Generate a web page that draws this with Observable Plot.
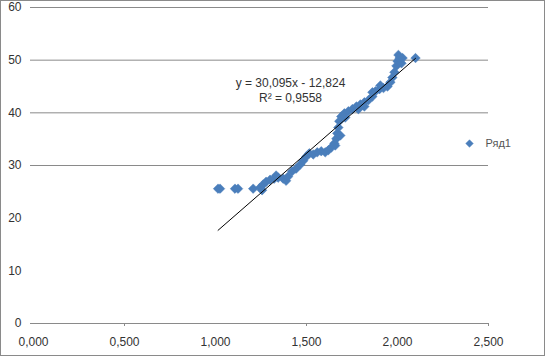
<!DOCTYPE html>
<html>
<head>
<meta charset="utf-8">
<script src="https://cdn.jsdelivr.net/npm/d3@7"></script>
<script src="https://cdn.jsdelivr.net/npm/@observablehq/plot@0.6"></script>
<style>
  html, body { margin: 0; padding: 0; background: #fff; }
  #wrap { position: relative; width: 545px; height: 356px; }
  #border { position: absolute; left: 0; top: 0; width: 545px; height: 356px; box-sizing: border-box; border: 1px solid #8a8a8a; pointer-events: none; }
</style>
</head>
<body>
<div id="wrap"><div id="border"></div></div>
<script>
// Series "Ряд1"
const xValues = [1.014, 1.025, 1.107, 1.124, 1.207, 1.245, 1.262, 1.256, 1.278, 1.300, 1.322, 1.333, 1.344, 1.372, 1.388, 1.399,
  1.421, 1.443, 1.466, 1.482, 1.499, 1.515, 1.537, 1.559, 1.581, 1.603, 1.620, 1.636, 1.653, 1.658, 1.664,
  1.669, 1.675, 1.680, 1.686, 1.691, 1.708, 1.713, 1.730, 1.752, 1.774, 1.785, 1.796, 1.818, 1.818, 1.840,
  1.862, 1.862, 1.879, 1.901, 1.906, 1.923, 1.945, 1.961, 1.972, 1.983, 1.994, 2.000, 2.005, 2.011, 2.022, 2.028, 2.099];
const yValues = [25.6, 25.6, 25.6, 25.6, 25.6, 25.8, 26.4, 25.3, 26.9, 27.3, 27.5, 28.1, 27.7, 27.5, 27.1, 27.9,
  28.9, 29.4, 30.2, 30.9, 31.7, 32.3, 32.1, 32.5, 32.7, 32.5, 32.9, 33.4, 34.2, 33.8, 35.1,
  36.1, 37.2, 38.4, 35.7, 39.3, 39.9, 39.1, 40.3, 40.7, 41.2, 40.7, 41.6, 42.0, 41.2, 42.4,
  43.1, 43.9, 44.1, 44.5, 45.2, 44.7, 45.0, 45.8, 46.7, 47.7, 48.9, 49.8, 51.0, 50.4, 49.4, 50.4, 50.4];
const seriesName = "Ряд1";
// Linear trendline as printed on the chart
const trendSlope = [30.095];
const trendIntercept = [-12.824];
const trendR2 = [0.9558];
// Axis ticks
const xTicks = [0, 0.5, 1.0, 1.5, 2.0, 2.5];
const yTicks = [0, 10, 20, 30, 40, 50, 60];
const yGrid = [0, 30, 40, 50, 60];
const xTickMarks = [0.5, 1.5, 2.5];

const points = xValues.map((x, i) => ({x, y: yValues[i]}));
const xExt = d3.extent(xValues);
const trend = xExt.map(x => ({x, y: trendSlope[0] * x + trendIntercept[0]}));
const comma = (v, n) => v.toFixed(n).replace(".", ",");
const eqText = `y = ${comma(trendSlope[0], 3)}x - ${comma(Math.abs(trendIntercept[0]), 3)}\nR² = ${comma(trendR2[0], 4)}`;

const blue = "#4a7ebb";
const grid = "#8a8a8a";
const font = "'Liberation Sans', Arial, sans-serif";

const chart = Plot.plot({
  width: 545,
  height: 356,
  marginLeft: 33,
  marginRight: 57,
  marginTop: 7,
  marginBottom: 33,
  style: {fontFamily: font, fontSize: "12px", color: "#333", background: "transparent"},
  x: {type: "linear", domain: [0, 2.5], ticks: xTicks, label: null},
  y: {type: "linear", domain: [0, 60], ticks: yTicks, label: null},
  marks: [
    Plot.ruleY(yGrid, {y: d => d, stroke: grid, strokeWidth: 1, insetLeft: -3}),
    Plot.axisX({ticks: xTickMarks, tickSize: 3, tickFormat: () => "", stroke: grid, label: null}),
    Plot.axisX({ticks: xTicks, tickSize: 0, tickPadding: 14, tickFormat: d => comma(d, 3), fill: "#333", fontSize: 12, label: null}),
    Plot.axisY({ticks: yTicks, tickSize: 0, tickPadding: 12, tickFormat: d => String(d), fill: "#333", fontSize: 12, label: null}),
    Plot.dot(points, {x: "x", y: "y", symbol: d3.symbolDiamond2, r: 4.3, fill: blue, stroke: blue, strokeWidth: 0.5}),
    Plot.line(trend, {x: "x", y: "y", stroke: "#000", strokeWidth: 1}),
    Plot.text([eqText], {frameAnchor: "top-left", dx: 257, dy: 82, text: d => d, textAnchor: "middle", lineAnchor: "middle", lineHeight: 1.3, fontSize: 12, fill: "#333"}),
    Plot.dot([seriesName], {frameAnchor: "right", dx: -19, dy: -22, symbol: d3.symbolDiamond2, r: 3.4, fill: blue, stroke: blue, strokeWidth: 0.5}),
    Plot.text([seriesName], {frameAnchor: "right", dx: -3, dy: -22, text: d => d, textAnchor: "start", fontSize: 11, fill: "#555"})
  ]
});
document.getElementById("wrap").prepend(chart);
</script>
</body>
</html>
